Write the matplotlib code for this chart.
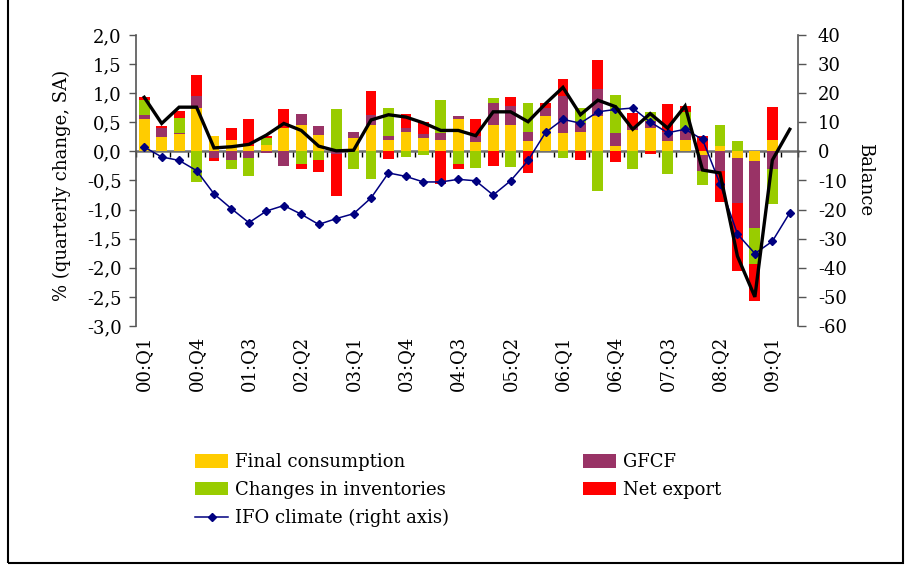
import matplotlib
matplotlib.use('Agg')
import matplotlib.pyplot as plt
import numpy as np
from matplotlib.ticker import FuncFormatter, MultipleLocator
from matplotlib.patches import Rectangle

plt.rcParams['font.family'] = ['DejaVu Serif']
plt.rcParams['font.size'] = 13

quarters = ['00:Q1', '00:Q2', '00:Q3', '00:Q4', '01:Q1', '01:Q2', '01:Q3', '01:Q4',
            '02:Q1', '02:Q2', '02:Q3', '02:Q4', '03:Q1', '03:Q2', '03:Q3', '03:Q4',
            '04:Q1', '04:Q2', '04:Q3', '04:Q4', '05:Q1', '05:Q2', '05:Q3', '05:Q4',
            '06:Q1', '06:Q2', '06:Q3', '06:Q4', '07:Q1', '07:Q2', '07:Q3', '07:Q4',
            '08:Q1', '08:Q2', '08:Q3', '08:Q4', '09:Q1', '09:Q2']
tick_labels = ['00:Q1', '00:Q4', '01:Q3', '02:Q2', '03:Q1', '03:Q4', '04:Q3',
               '05:Q2', '06:Q1', '06:Q4', '07:Q3', '08:Q2', '09:Q1']

# contributions (percentage points), 00:Q1 .. 09:Q1
final_consumption = [0.55, 0.24, 0.30, 0.74, 0.26, 0.19, 0.10, 0.11, 0.40, 0.46, 0.29, 0.00,
                     0.23, 0.45, 0.19, 0.33, 0.23, 0.19, 0.55, 0.17, 0.46, 0.45, 0.18, 0.61,
                     0.31, 0.33, 0.61, 0.09, 0.37, 0.40, 0.18, 0.19, -0.07, 0.09, -0.11, -0.17, 0.19]
gfcf = [0.07, 0.17, 0.02, 0.21, -0.11, -0.14, -0.11, -0.03, -0.25, 0.19, 0.15, -0.05,
        0.10, 0.17, 0.07, 0.07, 0.07, 0.12, 0.05, 0.09, 0.37, 0.33, 0.16, 0.14,
        0.64, 0.16, 0.46, 0.22, 0.07, 0.13, 0.15, 0.17, -0.27, -0.33, -0.78, -1.15, -0.31]
inventories = [0.26, 0.00, 0.25, -0.53, 0.00, -0.17, -0.32, 0.12, 0.00, -0.21, -0.15, 0.73,
               -0.30, -0.48, 0.48, -0.09, -0.06, 0.57, -0.21, -0.28, 0.08, -0.26, 0.50, 0.00,
               -0.11, 0.26, -0.68, 0.66, -0.31, 0.15, -0.38, 0.32, -0.24, 0.37, 0.18, -0.62, -0.60]
net_export = [0.05, 0.03, 0.13, 0.36, -0.06, 0.21, 0.45, 0.03, 0.32, -0.10, -0.21, -0.71,
              0.00, 0.41, -0.13, 0.25, 0.20, -0.56, -0.10, 0.29, -0.25, 0.15, -0.37, 0.09,
              0.29, -0.15, 0.50, -0.18, 0.22, -0.05, 0.48, 0.10, 0.27, -0.54, -1.17, -0.63, 0.58]
# GDP growth (black line), 00:Q1 .. 09:Q2
gdp = [0.93, 0.48, 0.76, 0.76, 0.06, 0.08, 0.12, 0.28, 0.48, 0.36, 0.09, 0.01,
       0.02, 0.54, 0.63, 0.59, 0.49, 0.36, 0.36, 0.27, 0.68, 0.68, 0.51, 0.82,
       1.10, 0.63, 0.88, 0.77, 0.38, 0.65, 0.40, 0.78, -0.32, -0.37, -1.80, -2.50, -0.15, 0.38]
# IFO business climate balance (right axis), 00:Q1 .. 09:Q2
ifo = [1.5, -1.9, -3.1, -6.6, -14.6, -19.7, -24.5, -20.5, -18.6, -21.6, -25.1, -23.1,
       -21.4, -16.0, -7.4, -8.6, -10.5, -10.5, -9.6, -10.1, -15.0, -10.1, -3.1, 6.5,
       11.0, 9.7, 13.6, 14.4, 14.9, 10.1, 6.4, 7.6, 4.1, -11.1, -28.4, -35.1, -30.9, -21.1]

series = [(final_consumption, '#FFCC00', 'Final consumption'),
          (gfcf, '#993366', 'GFCF'),
          (inventories, '#99CC00', 'Changes in inventories'),
          (net_export, '#FF0000', 'Net export')]

W, H = 906, 568
fig = plt.figure(figsize=(W / 100, H / 100), dpi=100)
ax_l, ax_r, ax_t, ax_b = 135.5, 798.5, 35, 326
ax = fig.add_axes([ax_l / W, 1 - ax_b / H, (ax_r - ax_l) / W, (ax_b - ax_t) / H])
ax2 = ax.twinx()

x_all = np.arange(len(quarters))
nb = len(final_consumption)
xb = x_all[:nb]
pos_base = np.zeros(nb)
neg_base = np.zeros(nb)
handles = {}
for vals, color, label in series:
    v = np.array(vals, float)
    pos = np.where(v > 0, v, 0)
    neg = np.where(v < 0, v, 0)
    mp = v > 0
    mn = v < 0
    ax.bar(xb[mp], pos[mp], bottom=pos_base[mp], width=0.62, color=color,
           linewidth=0, zorder=2)
    ax.bar(xb[mn], neg[mn], bottom=neg_base[mn], width=0.62, color=color,
           linewidth=0, zorder=2)
    pos_base += pos
    neg_base += neg
    handles[label] = Rectangle((0, 0), 1, 1, facecolor=color, linewidth=0)

ax.set_xlim(-0.5, len(quarters) - 0.5)
ymin, ymax = -3.0, 2.0
ax.set_ylim(ymin, ymax)
ax2.set_ylim(-60, 40)

# IFO line drawn through the right axis scale
ifo_line, = ax.plot(x_all, ifo, transform=ax2.transData, color='#000080', lw=1.1,
                    marker='D', ms=4.2, zorder=3)
ax.plot(x_all, gdp, color='black', lw=2.4, zorder=4, solid_joinstyle='miter')

spine_c = '#555555'
for s in ['top', 'bottom', 'right']:
    ax.spines[s].set_visible(False)
for s in ['top', 'bottom', 'left']:
    ax2.spines[s].set_visible(False)
ax.spines['left'].set_color(spine_c)
ax2.spines['right'].set_color(spine_c)
ax.spines['left'].set_linewidth(1.2)
ax2.spines['right'].set_linewidth(1.2)

ax.yaxis.set_major_locator(MultipleLocator(0.5))
ax.yaxis.set_major_formatter(FuncFormatter(lambda v, p: f"{v:.1f}".replace('.', ',')))
ax.tick_params(axis='y', direction='out', length=5, width=1, color=spine_c, pad=5,
               labelsize=13)
ax2.yaxis.set_major_locator(MultipleLocator(10))
ax2.yaxis.set_major_formatter(FuncFormatter(lambda v, p: f"{int(round(v))}"))
ax2.tick_params(axis='y', direction='out', length=6, width=1, color=spine_c, pad=8,
                labelsize=13)

tick_pos = [quarters.index(t) for t in tick_labels]
ax.set_xticks(tick_pos)
ax.set_xticklabels(tick_labels, rotation=90)
ax.tick_params(axis='x', length=0, pad=7, labelsize=13)

# category axis on the zero line
sec = ax.secondary_xaxis((0 - ymin) / (ymax - ymin))
sec.set_alignment('bottom')
sec.set_xticks(np.arange(-0.5, len(quarters), 1.0))
sec.set_xticklabels([])
sec.tick_params(axis='x', direction='out', length=4.5, width=1, color='black')
for s in sec.spines.values():
    s.set_color('#707070')
    s.set_linewidth(1.8)

fig.text(62 / W, 1 - 185 / H, '% (quarterly change, SA)', rotation=90,
         ha='center', va='center', fontsize=13)
fig.text(865 / W, 1 - 180 / H, 'Balance', rotation=270,
         ha='center', va='center', fontsize=13)

leg_kw = dict(frameon=False, borderpad=0, borderaxespad=0, handlelength=1.83,
              handleheight=0.78, handletextpad=0.4, labelspacing=0.55, fontsize=13,
              loc='upper left')
fig.legend([handles['Final consumption'], handles['Changes in inventories'], ifo_line],
           ['Final consumption', 'Changes in inventories', 'IFO climate (right axis)'],
           bbox_to_anchor=(195 / W, 1 - 453 / H), **leg_kw)
fig.legend([handles['GFCF'], handles['Net export']], ['GFCF', 'Net export'],
           bbox_to_anchor=(583 / W, 1 - 453 / H), **leg_kw)

fig.patches.append(Rectangle((8 / W, 5 / H), (903 - 8) / W, 1 - 5 / H + 0.01,
                             transform=fig.transFigure, fill=False, edgecolor='black',
                             linewidth=1.5))

fig.savefig('out.png', dpi=100)
